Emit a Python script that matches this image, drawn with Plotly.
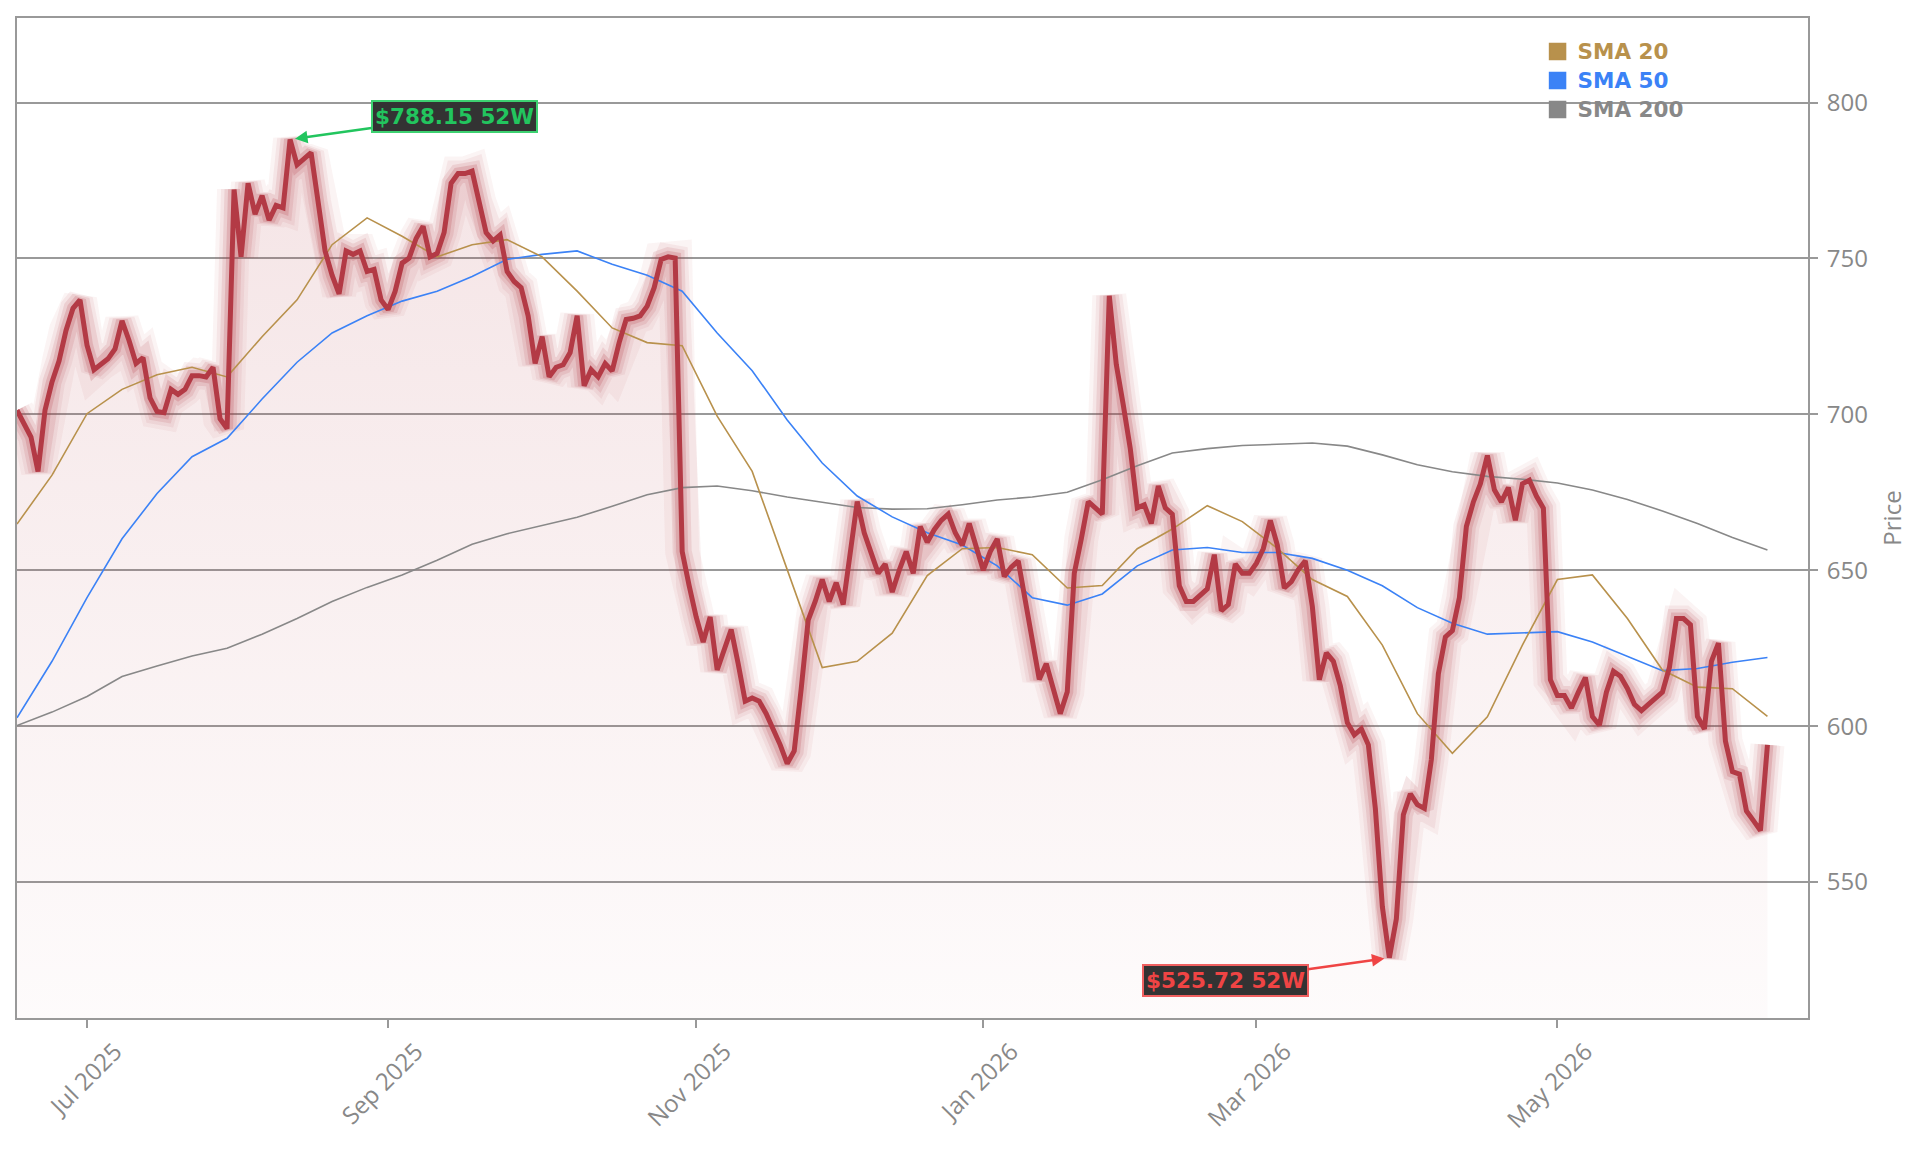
import pandas as pd
import plotly.graph_objects as go

# NYSE holidays inside the window (trading-day calendar)
holidays = ["2025-06-19", "2025-07-04", "2025-09-01", "2025-11-27", "2025-12-25",
            "2026-01-01", "2026-01-19", "2026-02-16", "2026-04-03", "2026-05-25",
            "2026-06-19"]
dates = [d.strftime("%Y-%m-%d") for d in pd.bdate_range("2025-06-16", "2026-06-15")
         if d.strftime("%Y-%m-%d") not in holidays]

price = [
    701.3, 697.4, 692.7, 681.7, 701.3, 710.4, 717.1, 726.9, 734.0, 736.7,
    722.2, 714.3, 716.3, 717.8, 721.0, 730.0, 723.7, 716.3, 718.2, 705.3,
    700.9, 700.5, 708.0, 706.4, 708.0, 712.4, 712.4, 712.0, 715.1, 698.6,
    695.4, 772.1, 750.5, 774.1, 764.2, 770.1, 762.3, 767.0, 766.2, 788.15,
    780.0, 781.9, 783.9, 768.2, 752.4, 744.6, 738.6, 752.4, 751.3, 752.4,
    745.8, 746.5, 736.7, 733.6, 739.4, 748.5, 750.1, 756.4, 760.3, 750.5,
    751.6, 758.3, 774.1, 777.2, 777.2, 778.0, 768.2, 758.3, 755.6, 757.5,
    745.8, 742.6, 740.6, 731.6, 716.3, 724.9, 712.0, 715.1, 715.9, 719.8,
    731.6, 709.2, 714.3, 712.0, 716.3, 713.9, 723.0, 730.4, 730.8, 731.6,
    734.7, 740.6, 749.7, 750.5, 750.1, 656.0, 645.0, 635.0, 627.0, 635.0,
    618.0, 625.0, 631.0, 620.0, 608.0, 609.0, 608.0, 604.0, 599.0, 594.0,
    588.0, 592.0, 612.0, 634.0, 640.0, 647.0, 640.0, 646.0, 639.0, 655.0,
    672.0, 662.0, 655.0, 649.0, 652.0, 643.0, 650.0, 656.0, 649.0, 664.0,
    659.0, 663.0, 666.0, 668.0, 662.0, 658.0, 665.0, 657.0, 650.0, 656.0,
    660.0, 648.0, 651.0, 653.0, 640.0, 626.0, 615.0, 620.0, 612.0, 604.0,
    611.0, 649.0, 660.0, 672.0, 670.0, 668.0, 738.0, 716.0, 703.0, 689.0,
    670.0, 671.0, 665.0, 677.0, 670.0, 668.0, 645.0, 640.0, 640.0, 642.0,
    644.0, 655.0, 637.0, 639.0, 652.0, 649.0, 649.0, 652.2, 656.9, 666.0,
    658.1, 644.3, 646.3, 650.2, 653.0, 638.4, 614.9, 623.5, 620.8, 612.9,
    601.1, 597.2, 599.1, 594.0, 573.6, 542.1, 525.72, 538.2, 571.6, 578.3,
    574.8, 573.6, 589.3, 616.8, 628.6, 630.6, 641.2, 664.0, 671.9, 677.7,
    686.8, 675.8, 671.9, 676.5, 666.0, 677.7, 678.9, 673.8, 669.9, 614.9,
    609.8, 609.8, 605.8, 610.9, 615.6, 603.1, 600.3, 610.9, 617.6, 616.0,
    612.1, 607.0, 605.0, 607.0, 609.0, 610.9, 618.8, 634.5, 634.5, 632.5,
    603.1, 599.1, 620.8, 626.6, 595.2, 585.4, 584.6, 572.8, 569.7, 566.5,
    594.0,
]
if len(dates) != len(price):
    raise SystemExit(f"length mismatch {len(dates)} {len(price)}")

# moving averages read every 5th trading day
sma_dates = dates[::5]
sma20 = [664.8, 680.5, 700.2, 708.0, 712.7, 715.1, 712.0, 724.9, 736.7, 754.4,
         763.0, 757.1, 750.5, 754.4, 756.0, 750.5, 739.5, 727.7, 723.0, 722.0,
         699.4, 681.7, 650.2, 618.8, 620.8, 629.8, 648.3, 656.9, 657.3, 655.0,
         644.3, 645.1, 656.9, 663.2, 670.7, 665.6, 657.0, 647.0, 641.6, 626.0,
         604.0, 591.3, 603.0, 626.0, 647.0, 648.5, 634.5, 618.0, 612.5, 612.0,
         603.1]
sma50 = [602.7, 620.8, 641.2, 660.1, 674.6, 686.4, 692.3, 704.9, 716.7, 726.1,
         731.6, 736.3, 739.5, 744.2, 749.7, 751.3, 752.4, 748.1, 744.6, 739.5,
         726.1, 714.0, 698.2, 684.4, 673.8, 667.1, 662.0, 658.1, 651.4, 641.2,
         638.8, 642.4, 651.4, 656.5, 657.3, 655.7, 655.7, 653.8, 650.0, 645.0,
         638.0, 633.0, 629.5, 629.8, 630.3, 627.0, 622.5, 617.8, 618.5, 620.5,
         622.0]
sma200 = [600.2, 604.5, 609.5, 615.9, 619.3, 622.5, 625.0, 629.5, 634.5, 640.0,
          644.5, 648.5, 653.2, 658.3, 661.7, 664.3, 667.0, 670.5, 674.2, 676.5,
          677.0, 675.5, 673.5, 671.8, 670.1, 669.6, 669.7, 671.0, 672.5, 673.5,
          675.0, 679.0, 683.5, 687.6, 689.0, 690.0, 690.5, 690.8, 689.8, 687.0,
          683.8, 681.6, 680.1, 679.2, 678.0, 675.7, 672.7, 669.0, 665.0, 660.5,
          656.5]

hi_idx = price.index(max(price))
lo_idx = price.index(min(price))

PRICE_COLOR = "#B33A45"
C20, C50, C200 = "#B8914C", "#3B82F6", "#888888"

fig = go.Figure()

# gradient area under price
fig.add_trace(go.Scatter(
    x=dates, y=price, mode="lines", line=dict(width=0, color=PRICE_COLOR),
    fill="tozeroy",
    fillgradient=dict(type="vertical", start=506, stop=790,
                      colorscale=[[0, "rgba(180,60,70,0.02)"], [1, "rgba(180,60,70,0.14)"]]),
    showlegend=False, hoverinfo="skip"))

# glow layers
for w, a in [(34, 0.06), (26, 0.075), (19, 0.13), (12, 0.2)]:
    fig.add_trace(go.Scatter(x=dates, y=price, mode="lines",
                             line=dict(width=w, color=f"rgba(180,60,70,{a})"),
                             showlegend=False, hoverinfo="skip"))

fig.add_trace(go.Scatter(x=sma_dates, y=sma200, mode="lines", line=dict(width=1.6, color=C200),
                         showlegend=False))
fig.add_trace(go.Scatter(x=sma_dates, y=sma50, mode="lines", line=dict(width=1.6, color=C50),
                         showlegend=False))
fig.add_trace(go.Scatter(x=sma_dates, y=sma20, mode="lines", line=dict(width=1.6, color=C20),
                         showlegend=False))

fig.add_trace(go.Scatter(x=dates, y=price, mode="lines", line=dict(width=5, color=PRICE_COLOR),
                         showlegend=False, name="Price"))

# legend entries (square swatches, coloured bold labels)
for name, col in [("SMA 20", C20), ("SMA 50", C50), ("SMA 200", C200)]:
    fig.add_trace(go.Scatter(x=[None], y=[None], mode="markers",
                             marker=dict(symbol="square", size=16, color=col,
                                         line=dict(width=1.5, color=col)),
                             name=f"<b><span style='color:{col};font-size:21.5px'>{name}</span></b>"))

ann_font = dict(family="DejaVu Sans", size=21.5)
fig.add_annotation(x=dates[hi_idx], y=price[hi_idx], text=f"<b>${price[hi_idx]:.2f} 52W</b>",
                   ax=164, ay=-23, showarrow=True, arrowhead=2, arrowsize=1, arrowwidth=2.5,
                   arrowcolor="#22C55E", standoff=5,
                   font=dict(**ann_font, color="#22C55E"), bgcolor="#333333",
                   bordercolor="#3DD171", borderwidth=2, borderpad=2)
fig.add_annotation(x=dates[lo_idx], y=price[lo_idx], text=f"<b>${price[lo_idx]:.2f} 52W</b>",
                   ax=-164, ay=23, showarrow=True, arrowhead=2, arrowsize=1, arrowwidth=2.5,
                   arrowcolor="#EF4444", standoff=5,
                   font=dict(**ann_font, color="#EF4444"), bgcolor="#333333",
                   bordercolor="#F06060", borderwidth=2, borderpad=2)

fig.update_layout(
    width=1921, height=1153,
    margin=dict(l=17, r=113, t=18, b=135),
    paper_bgcolor="white", plot_bgcolor="white",
    font=dict(family="Open Sans", size=24, color="#888888"),
    legend=dict(x=0.849, y=0.986, xanchor="left", yanchor="top",
                bgcolor="rgba(0,0,0,0)", font=dict(family="DejaVu Sans", size=20),
                tracegroupgap=0, itemwidth=30),
    showlegend=True,
)
fig.update_xaxes(
    type="date",
    range=["2025-06-16", "2026-06-23 19:00"],
    rangebreaks=[dict(bounds=["sat", "mon"]), dict(values=holidays)],
    tick0="2025-07-01", dtick="M2", tickformat="%b %Y", tickangle=-45,
    ticklabelshift=28,
    showgrid=False, showline=True, linecolor="#999999", linewidth=2, mirror=True,
    ticks="outside", ticklen=8, tickcolor="#999999", tickwidth=1.5,
    tickfont=dict(size=24, color="#888888"), zeroline=False,
)
fig.update_yaxes(
    side="right", range=[506.4, 827.1], dtick=50,
    title=dict(text="Price", font=dict(size=24, color="#888888"), standoff=17),
    ticklabelstandoff=4,
    showgrid=True, gridcolor="#999999", gridwidth=2,
    showline=True, linecolor="#999999", linewidth=2, mirror=True,
    ticks="outside", ticklen=8, tickcolor="#999999", tickwidth=1.5,
    tickfont=dict(size=24, color="#888888"), zeroline=False,
)

fig.write_html("out.html")
